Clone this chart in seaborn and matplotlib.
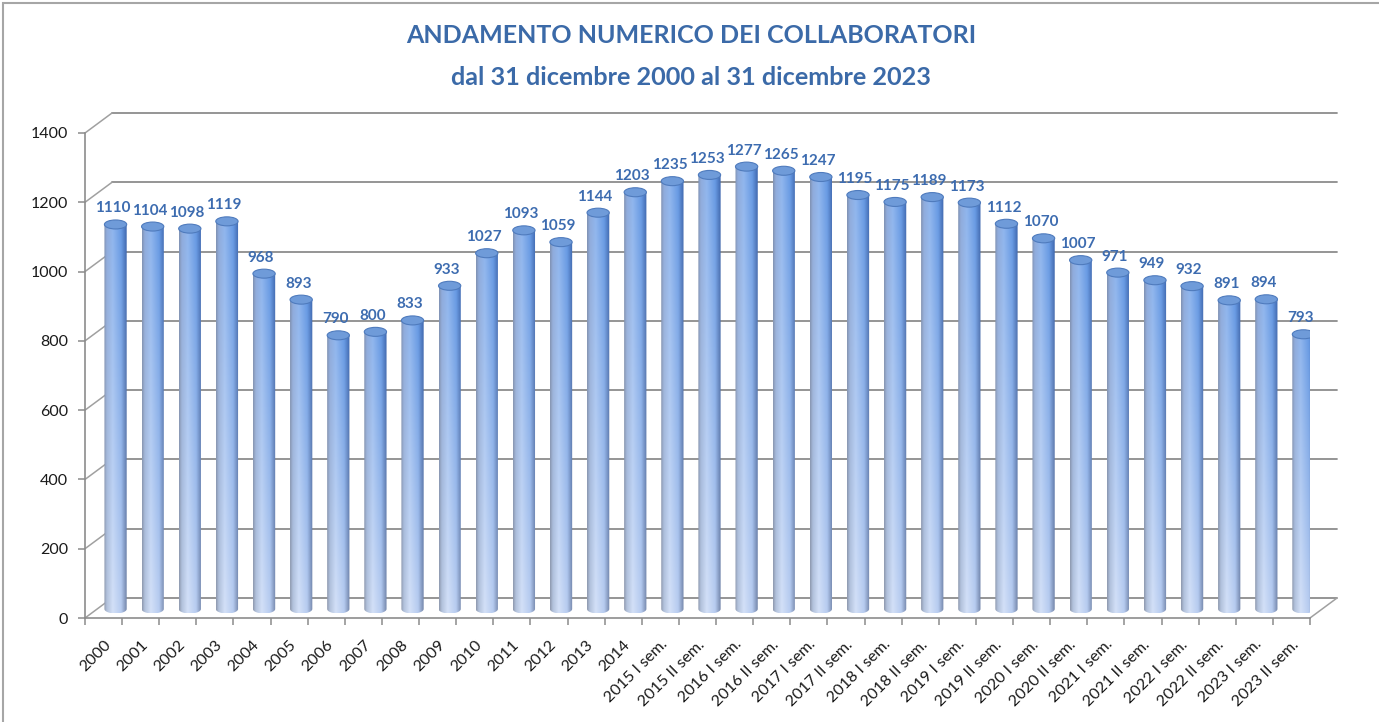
import numpy as np
import matplotlib
matplotlib.use("Agg")
import matplotlib.pyplot as plt
import seaborn as sns
from matplotlib.transforms import ScaledTranslation
from matplotlib.patches import Polygon, Ellipse, Rectangle

# data
periods = [
    "2000", "2001", "2002", "2003", "2004", "2005", "2006", "2007", "2008",
    "2009", "2010", "2011", "2012", "2013", "2014",
    "2015 I sem.", "2015 II sem.", "2016 I sem.", "2016 II sem.",
    "2017 I sem.", "2017 II sem.", "2018 I sem.", "2018 II sem.",
    "2019 I sem.", "2019 II sem.", "2020 I sem.", "2020 II sem.",
    "2021 I sem.", "2021 II sem.", "2022 I sem.", "2022 II sem.",
    "2023 I sem.", "2023 II sem.",
]
collaborators = [
    1110, 1104, 1098, 1119, 968, 893, 790, 800, 833,
    933, 1027, 1093, 1059, 1144, 1203,
    1235, 1253, 1277, 1265,
    1247, 1195, 1175, 1189,
    1173, 1112, 1070, 1007,
    971, 949, 932, 891,
    894, 793,
]
y_ticks = [0, 200, 400, 600, 800, 1000, 1200, 1400]

title_1 = "ANDAMENTO NUMERICO DEI COLLABORATORI"
title_2 = "dal 31 dicembre 2000 al 31 dicembre 2023"

sns.set_theme(style="white")
plt.rcParams["font.family"] = ["Lato", "DejaVu Sans"]

W, H, DPI = 1379, 722, 100
fig = plt.figure(figsize=(W / DPI, H / DPI), dpi=DPI)
fig.patch.set_facecolor("white")
ax = fig.add_axes([85 / W, 104 / H, 1225 / W, 485 / H])
ax.patch.set_visible(False)

sns.barplot(x=periods, y=collaborators, width=0.6, color="#6f9de0", ax=ax)
n = len(periods)
ymax = y_ticks[-1]


def shift(px, py):
    # pixel offset of the "3D" depth planes
    return ax.transData + ScaledTranslation(px / DPI, py / DPI, fig.dpi_scale_trans)


bar_tr = shift(12, 9)
back_tr = shift(27, 20)
grid_col = "#8c8c8c"

# cylinder shading: horizontal profile, blended bottom -> top
u_stops = [0.0, 0.12, 0.38, 0.75, 1.0]
bottom_cols = np.array([[0.56, 0.60, 0.68], [0.70, 0.76, 0.86], [0.83, 0.88, 0.97],
                        [0.72, 0.80, 0.94], [0.45, 0.52, 0.66]])
top_cols = np.array([[0.50, 0.57, 0.70], [0.56, 0.67, 0.86], [0.56, 0.71, 0.93],
                     [0.40, 0.60, 0.89], [0.24, 0.40, 0.68]])
u = np.linspace(0, 1, 80)


def profile(cols):
    return np.stack([np.interp(u, u_stops, cols[:, k]) for k in range(3)], axis=-1)


pb, pt = profile(bottom_cols), profile(top_cols)
v = np.linspace(0, 1, 120)[:, None, None]
grad = pb[None] * (1 - v) + pt[None] * v

cap = 9 / (485 / ymax)  # ellipse height in data units (~9 px)
t = np.linspace(np.pi, 2 * np.pi, 40)

for p, val in zip(list(ax.patches), collaborators):
    x0, w, h = p.get_x(), p.get_width(), p.get_height()
    p.set_visible(False)
    cx = x0 + w / 2
    pts = [(x0, h)] + [(cx + w / 2 * np.cos(a), cap / 2 * np.sin(a)) for a in t] + [(x0 + w, h)]
    body = Polygon(pts, closed=True, transform=bar_tr, facecolor="none", edgecolor="none")
    ax.add_patch(body)
    im = ax.imshow(grad, extent=[x0, x0 + w, -cap / 2, h], origin="lower",
                   aspect="auto", interpolation="bilinear", zorder=2)
    im.set_transform(bar_tr)
    im.set_clip_path(body)
    ax.add_patch(Ellipse((cx, h), w, cap, transform=bar_tr, facecolor="#6f9bd9",
                         edgecolor="#4f7bbd", lw=0.8, zorder=3))
    ax.annotate(f"{val}", xy=(cx, h), xycoords=bar_tr, xytext=(-3, 16),
                textcoords="offset pixels", ha="center", va="center",
                fontsize=11, fontweight="bold", color="#3d6cb0", zorder=4)

# back wall gridlines and side diagonals
dxd = 27 / (1225 / n)
dyd = 20 / (485 / ymax)
for yv in y_ticks:
    ax.plot([-0.5, n - 0.5], [yv, yv], transform=back_tr, color=grid_col,
            lw=1.3, zorder=1, clip_on=False)
    ax.plot([-0.5, -0.5 + dxd], [yv, yv + dyd], color="#a0a0a0", lw=1.1,
            zorder=1, clip_on=False)
ax.plot([n - 0.5, n - 0.5 + dxd], [0, dyd], color="#a0a0a0", lw=1.1,
        zorder=1, clip_on=False)

ax.set_xlim(-0.5, n - 0.5)
ax.set_ylim(0, ymax)
ax.set_yticks(y_ticks)
ax.set_xlabel("")
ax.set_ylabel("")
ax.grid(False)

for side in ["top", "right"]:
    ax.spines[side].set_visible(False)
for side in ["left", "bottom"]:
    ax.spines[side].set_color(grid_col)
    ax.spines[side].set_linewidth(1.2)

ax.set_xticks(np.arange(n))
ax.set_xticklabels(periods, rotation=45, ha="right", rotation_mode="anchor")
ax.set_xticks(np.arange(n + 1) - 0.5, minor=True)
ax.tick_params(axis="x", which="major", length=0, pad=14, labelsize=11.5,
               labelcolor="#1a1a1a")
ax.tick_params(axis="x", which="minor", bottom=True, length=5, width=1.1, color=grid_col)
ax.tick_params(axis="y", left=True, length=5, width=1.1, color=grid_col, pad=7,
               labelsize=11.5, labelcolor="#1a1a1a")

fig.text(691 / W, 1 - 43 / H, title_1, ha="center", va="baseline",
         fontsize=18, fontweight="bold", color="#3b6aa8")
fig.text(691 / W, 1 - 85 / H, title_2, ha="center", va="baseline",
         fontsize=18.2, fontweight="bold", color="#3b6aa8")

# chart frame
fig.add_artist(Rectangle((3 / W, -0.5), 2, 1.5 - 3 / H, transform=fig.transFigure,
                         fill=False, edgecolor="#a6a6a6", lw=1.5))

fig.savefig("out.png", dpi=DPI)
